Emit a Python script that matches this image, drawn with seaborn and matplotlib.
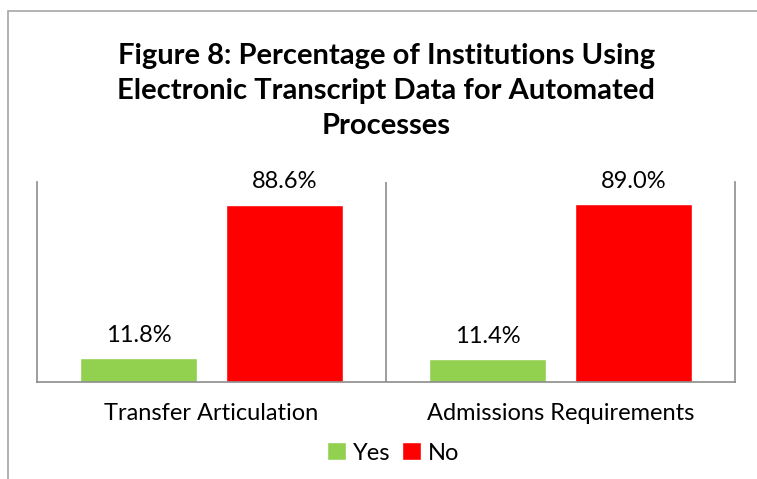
import matplotlib
matplotlib.use("Agg")
import matplotlib.pyplot as plt
import seaborn as sns
import pandas as pd
from matplotlib.patches import Rectangle

categories = ["Transfer Articulation", "Admissions Requirements"]
responses = ["Yes", "No"]
yes_values = [11.8, 11.4]
no_values = [88.6, 89.0]
colors = {"Yes": "#92d050", "No": "#ff0000"}

df = pd.DataFrame({
    "category": categories * 2,
    "response": ["Yes"] * 2 + ["No"] * 2,
    "value": yes_values + no_values,
})

sns.set_theme(style="white")
plt.rcParams["font.family"] = ["Lato", "DejaVu Sans"]
plt.rcParams["text.color"] = "black"
plt.rcParams["xtick.color"] = "black"

fig = plt.figure(figsize=(7.57, 4.79), dpi=100)
ax = fig.add_axes([0.0489, 0.2025, 0.9221, 0.4175])

sns.barplot(data=df, x="category", y="value", hue="response", order=categories,
            hue_order=responses, palette=colors, width=0.836, gap=0.2,
            saturation=1, ax=ax, legend=True)

for cont in ax.containers:
    ax.bar_label(cont, labels=[f"{v:.1f}%" for v in cont.datavalues],
                 padding=9, fontsize=17, color="black")

ax.set_ylim(0, 100)
ax.set_xlim(-0.5, 1.5)
ax.set_yticks([])
ax.set_xlabel("")
ax.set_ylabel("")
ax.tick_params(axis="x", labelsize=17, length=0, pad=15, labelcolor="black")
ax.axvline(0.5, color="#8c8c8c", lw=1.2)
for side in ["left", "right", "bottom"]:
    ax.spines[side].set_color("#8c8c8c")
    ax.spines[side].set_linewidth(1.2)
ax.spines["top"].set_visible(False)

leg = ax.legend(loc="center", bbox_to_anchor=(0.51, -0.355), ncol=2, frameon=False,
                fontsize=17, handlelength=0.8, handleheight=0.8,
                handletextpad=0.3, columnspacing=0.5)

fig.text(0.51, 0.81, "Figure 8: Percentage of Institutions Using\n"
         "Electronic Transcript Data for Automated\nProcesses",
         ha="center", va="center", fontsize=21, fontweight="bold",
         linespacing=1.45, color="black")

fig.patches.append(Rectangle((8 / 757, -0.1), 1.2, 1.1 - 11 / 479,
                             transform=fig.transFigure, fill=False,
                             edgecolor="#a6a6a6", lw=1.2))

fig.savefig("out.png", dpi=100)
